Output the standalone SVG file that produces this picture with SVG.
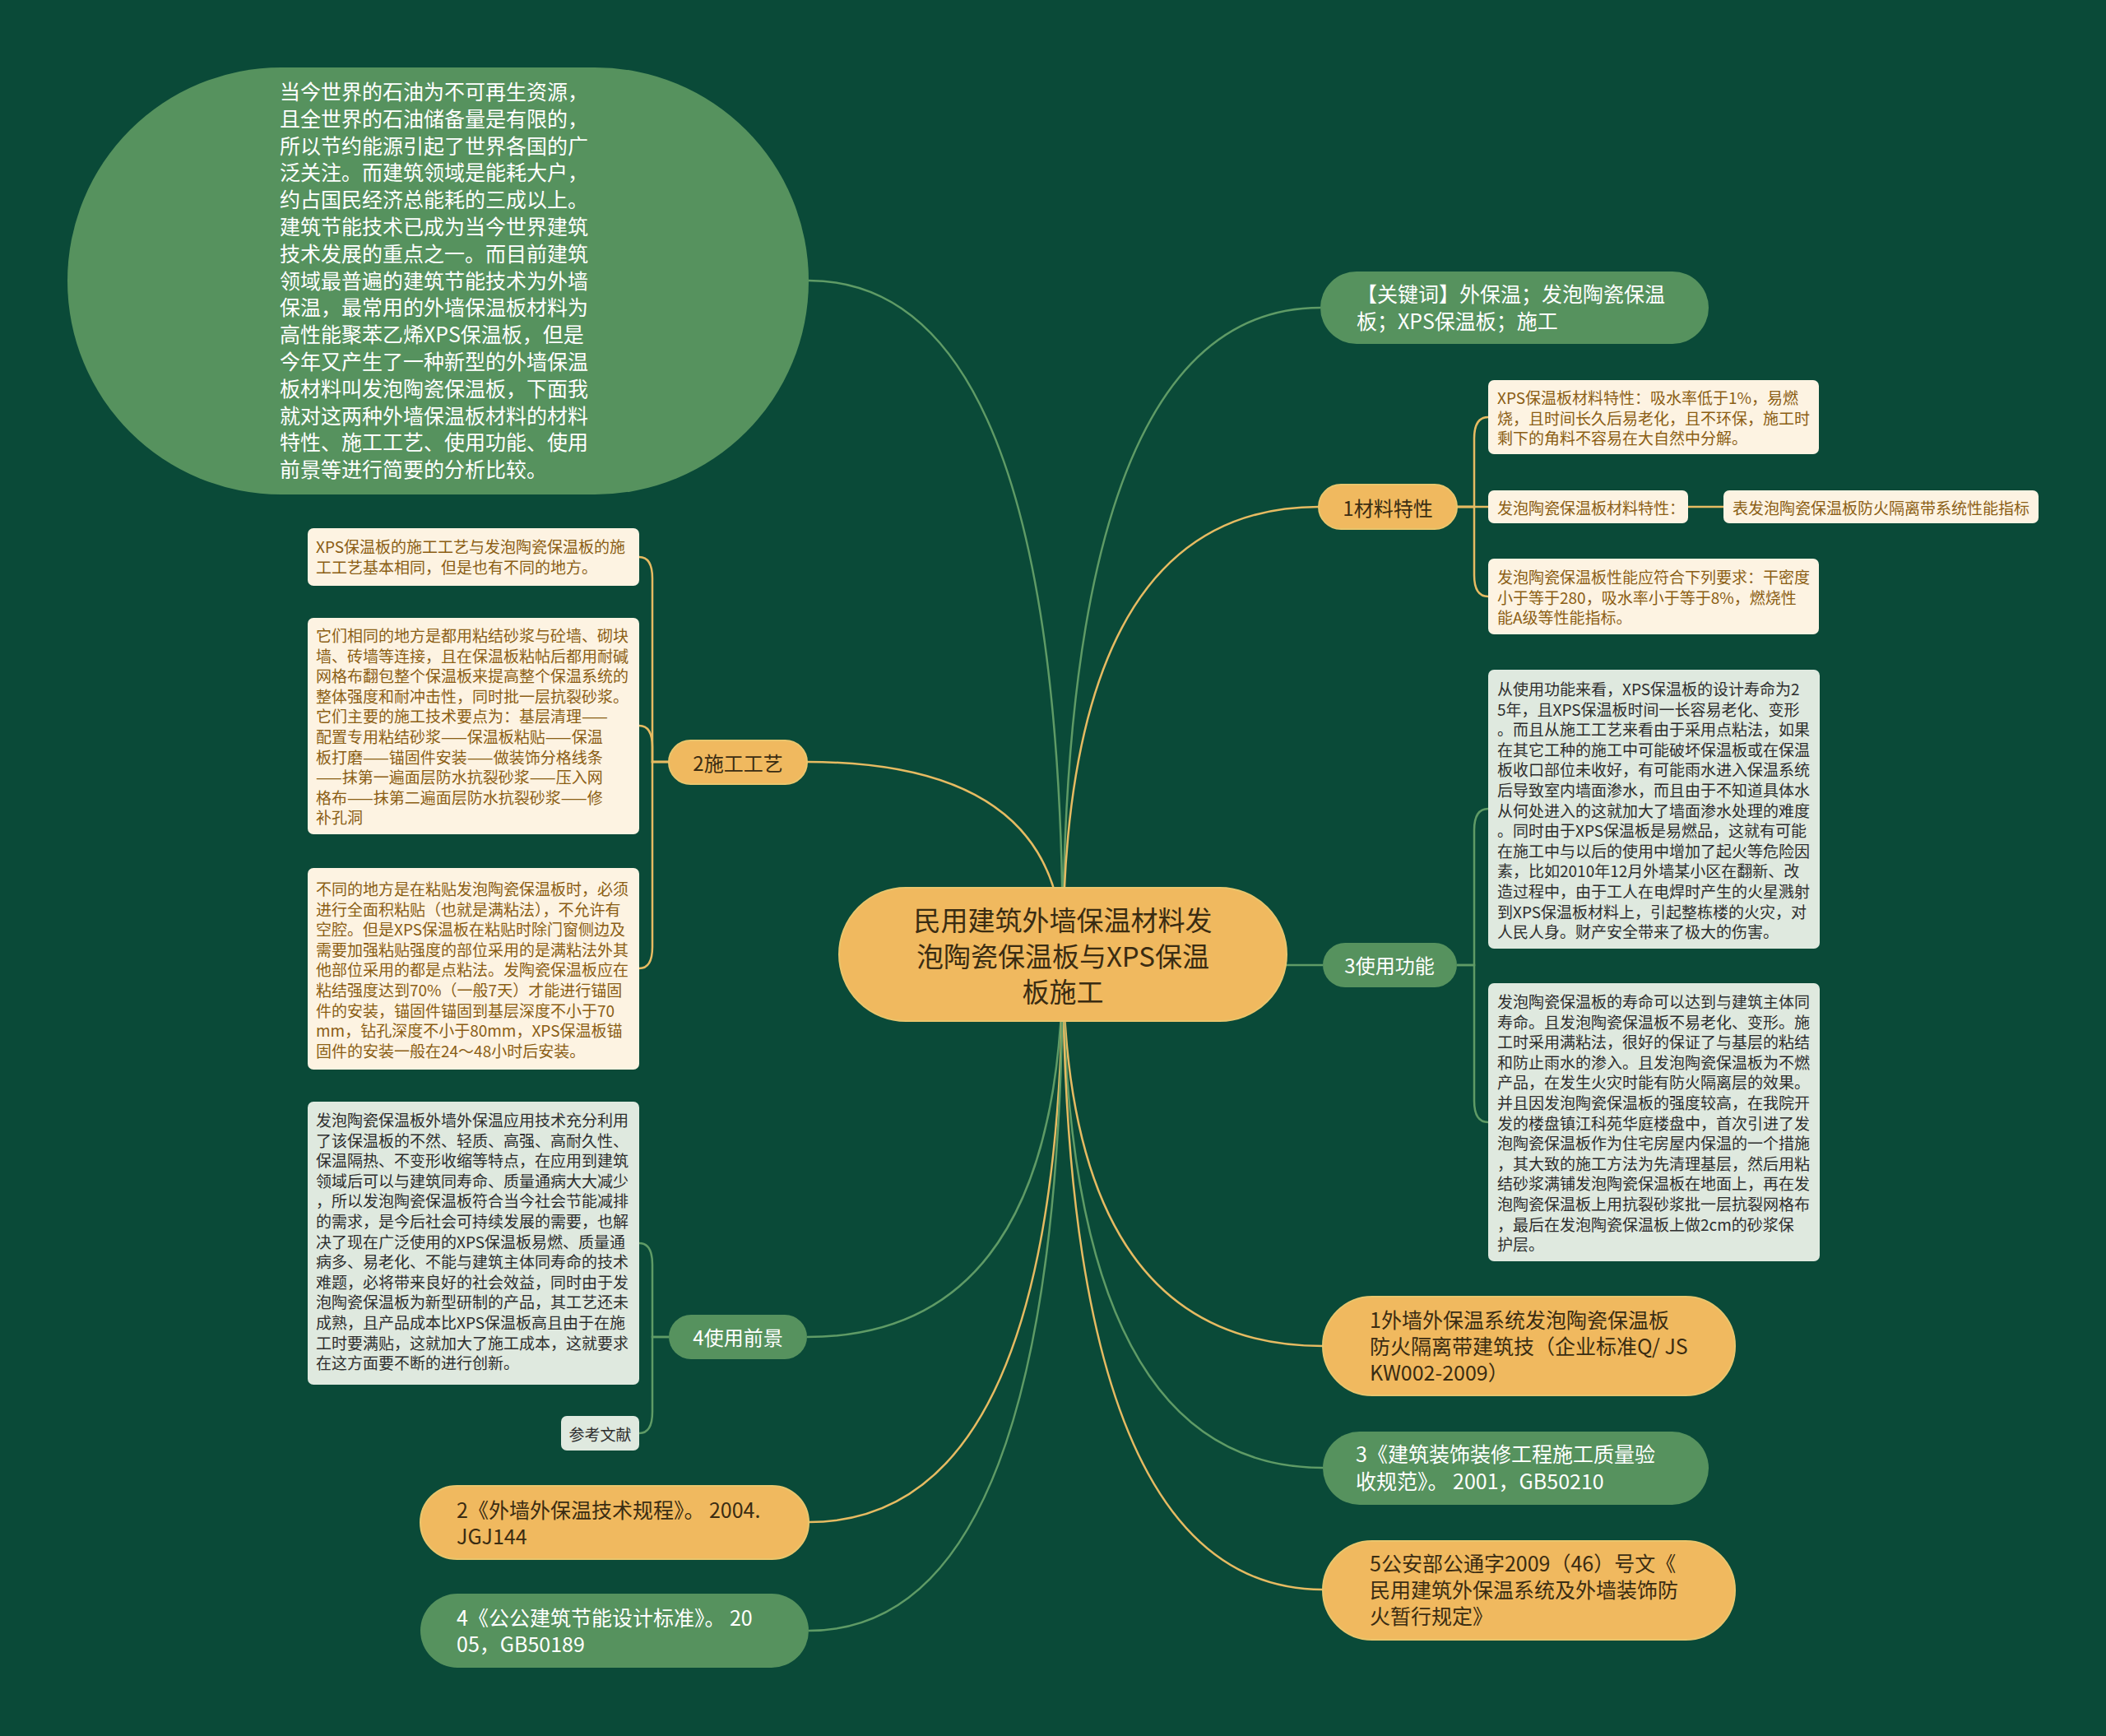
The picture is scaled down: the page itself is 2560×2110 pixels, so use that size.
<svg xmlns="http://www.w3.org/2000/svg" width="2560" height="2110" viewBox="0 0 2560 2110">
<style>
text{font-family:"Noto Sans CJK SC","Noto Sans",sans-serif;dominant-baseline:central}
.g{fill:#56925e}
.o{fill:#f0b95f;stroke:#e9c56c;stroke-width:2}
.cr{fill:#fdf3e2}
.lg{fill:#dfe9df}
.tw{fill:#ffffff;font-size:25px}
.td{fill:#3a2c12;font-size:25px}
.tb{fill:#8b5e14;font-size:19px}
.tk{fill:#2e2e2e;font-size:19px}
.lo{fill:none;stroke:#e6bb62;stroke-width:2.5}
.lgr{fill:none;stroke:#5f9b66;stroke-width:2.5}
</style>
<rect x="0" y="0" width="2560" height="2110" fill="#0a4a38"/>
<g id="connectors">
<path class="lgr" d="M1292,1160 Q1292,341 983,341"/>
<path class="lgr" d="M1292,1160 Q1292,374 1605,374"/>
<path class="lo" d="M1292,1160 Q1292,616 1603,616"/>
<path class="lo" d="M1292,1160 Q1292,926 981,926"/>
<path class="lgr" d="M1292,1160 Q1292,1173 1608,1173"/>
<path class="lgr" d="M1292,1160 Q1292,1625 981,1625"/>
<path class="lo" d="M1292,1160 Q1292,1636 1608,1636"/>
<path class="lgr" d="M1292,1160 Q1292,1784 1608,1784"/>
<path class="lo" d="M1292,1160 Q1292,1932 1608,1932"/>
<path class="lo" d="M1292,1160 Q1292,1850 983,1850"/>
<path class="lgr" d="M1292,1160 Q1292,1982 983,1982"/>
<path class="lo" d="M1771,616 H1792 V533 Q1792,507 1809,507"/>
<path class="lo" d="M1771,616 L1809,616"/>
<path class="lo" d="M1771,616 H1792 V699 Q1792,725 1809,725"/>
<path class="lo" d="M2052,616 L2095,616"/>
<path class="lo" d="M813,926 H793 V703 Q793,677 777,677"/>
<path class="lo" d="M813,926 H793 V908 Q793,882 777,882"/>
<path class="lo" d="M813,926 H793 V1151 Q793,1177 777,1177"/>
<path class="lgr" d="M1771,1173 H1792 V1009 Q1792,983 1809,983"/>
<path class="lgr" d="M1771,1173 H1792 V1338 Q1792,1364 1809,1364"/>
<path class="lgr" d="M813,1625 H793 V1537 Q793,1511 777,1511"/>
<path class="lgr" d="M813,1625 H793 V1716 Q793,1742 777,1742"/>
</g>
<g id="root">
<rect class="o" x="1020" y="1079" width="544" height="162" rx="81"/>
<text fill="#3a2c12" font-size="33" text-anchor="middle"><tspan x="1292" y="1117">民用建筑外墙保温材料发</tspan><tspan x="1292" y="1160.5">泡陶瓷保温板与XPS保温</tspan><tspan x="1292" y="1204">板施工</tspan></text>
</g>
<g id="intro">
<rect class="g" x="82" y="82" width="901" height="519" rx="259.5"/>
<text class="tw"><tspan x="340" y="110">当今世界的石油为不可再生资源，</tspan><tspan x="340" dy="32.8">且全世界的石油储备量是有限的，</tspan><tspan x="340" dy="32.8">所以节约能源引起了世界各国的广</tspan><tspan x="340" dy="32.8">泛关注。而建筑领域是能耗大户，</tspan><tspan x="340" dy="32.8">约占国民经济总能耗的三成以上。</tspan><tspan x="340" dy="32.8">建筑节能技术已成为当今世界建筑</tspan><tspan x="340" dy="32.8">技术发展的重点之一。而目前建筑</tspan><tspan x="340" dy="32.8">领域最普遍的建筑节能技术为外墙</tspan><tspan x="340" dy="32.8">保温，最常用的外墙保温板材料为</tspan><tspan x="340" dy="32.8">高性能聚苯乙烯XPS保温板，但是</tspan><tspan x="340" dy="32.8">今年又产生了一种新型的外墙保温</tspan><tspan x="340" dy="32.8">板材料叫发泡陶瓷保温板，下面我</tspan><tspan x="340" dy="32.8">就对这两种外墙保温板材料的材料</tspan><tspan x="340" dy="32.8">特性、施工工艺、使用功能、使用</tspan><tspan x="340" dy="32.8">前景等进行简要的分析比较。</tspan></text>
</g>
<g id="keywords">
<rect class="g" x="1605" y="330" width="472" height="88" rx="44"/>
<text class="tw"><tspan x="1649" y="356">【关键词】外保温；发泡陶瓷保温</tspan><tspan x="1649" dy="33">板；XPS保温板；施工</tspan></text>
</g>
<g id="n1">
<rect class="o" x="1603" y="589" width="168" height="54" rx="27"/>
<text class="td" text-anchor="middle" x="1687" y="616" style="font-size:24px">1材料特性</text>
</g>
<g id="n1a">
<rect class="cr" x="1809" y="462" width="402" height="90" rx="7"/>
<text class="tb"><tspan x="1820" y="482">XPS保温板材料特性：吸水率低于1%，易燃</tspan><tspan x="1820" dy="24.6">烧，且时间长久后易老化，且不环保，施工时</tspan><tspan x="1820" dy="24.6">剩下的角料不容易在大自然中分解。</tspan></text>
</g>
<g id="n1b">
<rect class="cr" x="1809" y="596" width="243" height="40" rx="7"/>
<text class="tb" x="1820" y="616">发泡陶瓷保温板材料特性：</text>
</g>
<g id="n1c">
<rect class="cr" x="2095" y="596" width="383" height="40" rx="7"/>
<text class="tb" x="2106" y="616">表发泡陶瓷保温板防火隔离带系统性能指标</text>
</g>
<g id="n1d">
<rect class="cr" x="1809" y="679" width="402" height="92" rx="7"/>
<text class="tb"><tspan x="1820" y="700">发泡陶瓷保温板性能应符合下列要求：干密度</tspan><tspan x="1820" dy="24.6">小于等于280，吸水率小于等于8%，燃烧性</tspan><tspan x="1820" dy="24.6">能A级等性能指标。</tspan></text>
</g>
<g id="n3">
<rect class="g" x="1608" y="1146" width="163" height="54" rx="27"/>
<text class="tw" text-anchor="middle" x="1689" y="1172" style="font-size:24px">3使用功能</text>
</g>
<g id="n3a">
<rect class="lg" x="1809" y="814" width="403" height="339" rx="7"/>
<text class="tk"><tspan x="1820" y="836">从使用功能来看，XPS保温板的设计寿命为2</tspan><tspan x="1820" dy="24.6">5年，且XPS保温板时间一长容易老化、变形</tspan><tspan x="1820" dy="24.6">。而且从施工工艺来看由于采用点粘法，如果</tspan><tspan x="1820" dy="24.6">在其它工种的施工中可能破坏保温板或在保温</tspan><tspan x="1820" dy="24.6">板收口部位未收好，有可能雨水进入保温系统</tspan><tspan x="1820" dy="24.6">后导致室内墙面渗水，而且由于不知道具体水</tspan><tspan x="1820" dy="24.6">从何处进入的这就加大了墙面渗水处理的难度</tspan><tspan x="1820" dy="24.6">。同时由于XPS保温板是易燃品，这就有可能</tspan><tspan x="1820" dy="24.6">在施工中与以后的使用中增加了起火等危险因</tspan><tspan x="1820" dy="24.6">素，比如2010年12月外墙某小区在翻新、改</tspan><tspan x="1820" dy="24.6">造过程中，由于工人在电焊时产生的火星溅射</tspan><tspan x="1820" dy="24.6">到XPS保温板材料上，引起整栋楼的火灾，对</tspan><tspan x="1820" dy="24.6">人民人身。财产安全带来了极大的伤害。</tspan></text>
</g>
<g id="n3b">
<rect class="lg" x="1809" y="1195" width="403" height="338" rx="7"/>
<text class="tk"><tspan x="1820" y="1216">发泡陶瓷保温板的寿命可以达到与建筑主体同</tspan><tspan x="1820" dy="24.6">寿命。且发泡陶瓷保温板不易老化、变形。施</tspan><tspan x="1820" dy="24.6">工时采用满粘法，很好的保证了与基层的粘结</tspan><tspan x="1820" dy="24.6">和防止雨水的渗入。且发泡陶瓷保温板为不燃</tspan><tspan x="1820" dy="24.6">产品，在发生火灾时能有防火隔离层的效果。</tspan><tspan x="1820" dy="24.6">并且因发泡陶瓷保温板的强度较高，在我院开</tspan><tspan x="1820" dy="24.6">发的楼盘镇江科苑华庭楼盘中，首次引进了发</tspan><tspan x="1820" dy="24.6">泡陶瓷保温板作为住宅房屋内保温的一个措施</tspan><tspan x="1820" dy="24.6">，其大致的施工方法为先清理基层，然后用粘</tspan><tspan x="1820" dy="24.6">结砂浆满铺发泡陶瓷保温板在地面上，再在发</tspan><tspan x="1820" dy="24.6">泡陶瓷保温板上用抗裂砂浆批一层抗裂网格布</tspan><tspan x="1820" dy="24.6">，最后在发泡陶瓷保温板上做2cm的砂浆保</tspan><tspan x="1820" dy="24.6">护层。</tspan></text>
</g>
<g id="ref1">
<rect class="o" x="1608" y="1576" width="501" height="120" rx="60"/>
<text class="td"><tspan x="1665" y="1603">1外墙外保温系统发泡陶瓷保温板</tspan><tspan x="1665" dy="32">防火隔离带建筑技（企业标准Q/ JS</tspan><tspan x="1665" dy="32">KW002-2009）</tspan></text>
</g>
<g id="ref3">
<rect class="g" x="1608" y="1740" width="469" height="89" rx="44.5"/>
<text class="tw"><tspan x="1648" y="1766">3《建筑装饰装修工程施工质量验</tspan><tspan x="1648" dy="33">收规范》。 2001，GB50210</tspan></text>
</g>
<g id="ref5">
<rect class="o" x="1608" y="1873" width="501" height="120" rx="60"/>
<text class="td"><tspan x="1665" y="1899">5公安部公通字2009（46）号文《</tspan><tspan x="1665" dy="32">民用建筑外保温系统及外墙装饰防</tspan><tspan x="1665" dy="32">火暂行规定》</tspan></text>
</g>
<g id="n2">
<rect class="o" x="813" y="900" width="168" height="53" rx="26.5"/>
<text class="td" text-anchor="middle" x="897" y="926" style="font-size:24px">2施工工艺</text>
</g>
<g id="n2a">
<rect class="cr" x="374" y="642" width="403" height="70" rx="7"/>
<text class="tb"><tspan x="384" y="663">XPS保温板的施工工艺与发泡陶瓷保温板的施</tspan><tspan x="384" dy="24.6">工工艺基本相同，但是也有不同的地方。</tspan></text>
</g>
<g id="n2b">
<rect class="cr" x="374" y="751" width="403" height="263" rx="7"/>
<text class="tb"><tspan x="384" y="771">它们相同的地方是都用粘结砂浆与砼墙、砌块</tspan><tspan x="384" dy="24.6">墙、砖墙等连接，且在保温板粘帖后都用耐碱</tspan><tspan x="384" dy="24.6">网格布翻包整个保温板来提高整个保温系统的</tspan><tspan x="384" dy="24.6">整体强度和耐冲击性，同时批一层抗裂砂浆。</tspan><tspan x="384" dy="24.6">它们主要的施工技术要点为：基层清理——</tspan><tspan x="384" dy="24.6">配置专用粘结砂浆——保温板粘贴——保温</tspan><tspan x="384" dy="24.6">板打磨——锚固件安装——做装饰分格线条</tspan><tspan x="384" dy="24.6">——抹第一遍面层防水抗裂砂浆——压入网</tspan><tspan x="384" dy="24.6">格布——抹第二遍面层防水抗裂砂浆——修</tspan><tspan x="384" dy="24.6">补孔洞</tspan></text>
</g>
<g id="n2c">
<rect class="cr" x="374" y="1055" width="403" height="245" rx="7"/>
<text class="tb"><tspan x="384" y="1079">不同的地方是在粘贴发泡陶瓷保温板时，必须</tspan><tspan x="384" dy="24.6">进行全面积粘贴（也就是满粘法），不允许有</tspan><tspan x="384" dy="24.6">空腔。但是XPS保温板在粘贴时除门窗侧边及</tspan><tspan x="384" dy="24.6">需要加强粘贴强度的部位采用的是满粘法外其</tspan><tspan x="384" dy="24.6">他部位采用的都是点粘法。发陶瓷保温板应在</tspan><tspan x="384" dy="24.6">粘结强度达到70%（一般7天）才能进行锚固</tspan><tspan x="384" dy="24.6">件的安装，锚固件锚固到基层深度不小于70</tspan><tspan x="384" dy="24.6">mm，钻孔深度不小于80mm，XPS保温板锚</tspan><tspan x="384" dy="24.6">固件的安装一般在24～48小时后安装。</tspan></text>
</g>
<g id="n4">
<rect class="g" x="813" y="1598" width="168" height="54" rx="27"/>
<text class="tw" text-anchor="middle" x="897" y="1624" style="font-size:24px">4使用前景</text>
</g>
<g id="n4a">
<rect class="lg" x="374" y="1339" width="403" height="344" rx="7"/>
<text class="tk"><tspan x="384" y="1360">发泡陶瓷保温板外墙外保温应用技术充分利用</tspan><tspan x="384" dy="24.6">了该保温板的不然、轻质、高强、高耐久性、</tspan><tspan x="384" dy="24.6">保温隔热、不变形收缩等特点，在应用到建筑</tspan><tspan x="384" dy="24.6">领域后可以与建筑同寿命、质量通病大大减少</tspan><tspan x="384" dy="24.6">，所以发泡陶瓷保温板符合当今社会节能减排</tspan><tspan x="384" dy="24.6">的需求，是今后社会可持续发展的需要，也解</tspan><tspan x="384" dy="24.6">决了现在广泛使用的XPS保温板易燃、质量通</tspan><tspan x="384" dy="24.6">病多、易老化、不能与建筑主体同寿命的技术</tspan><tspan x="384" dy="24.6">难题，必将带来良好的社会效益，同时由于发</tspan><tspan x="384" dy="24.6">泡陶瓷保温板为新型研制的产品，其工艺还未</tspan><tspan x="384" dy="24.6">成熟，且产品成本比XPS保温板高且由于在施</tspan><tspan x="384" dy="24.6">工时要满贴，这就加大了施工成本，这就要求</tspan><tspan x="384" dy="24.6">在这方面要不断的进行创新。</tspan></text>
</g>
<g id="n4b">
<rect class="lg" x="682" y="1721" width="95" height="42" rx="7"/>
<text class="tk" text-anchor="middle" x="729.5" y="1742">参考文献</text>
</g>
<g id="ref2">
<rect class="o" x="511" y="1806" width="472" height="89" rx="44.5"/>
<text class="td"><tspan x="555" y="1834">2《外墙外保温技术规程》。 2004.</tspan><tspan x="555" dy="32">JGJ144</tspan></text>
</g>
<g id="ref4">
<rect class="g" x="511" y="1937" width="472" height="90" rx="45"/>
<text class="tw"><tspan x="555" y="1965">4《公公建筑节能设计标准》。 20</tspan><tspan x="555" dy="32">05，GB50189</tspan></text>
</g>
</svg>
